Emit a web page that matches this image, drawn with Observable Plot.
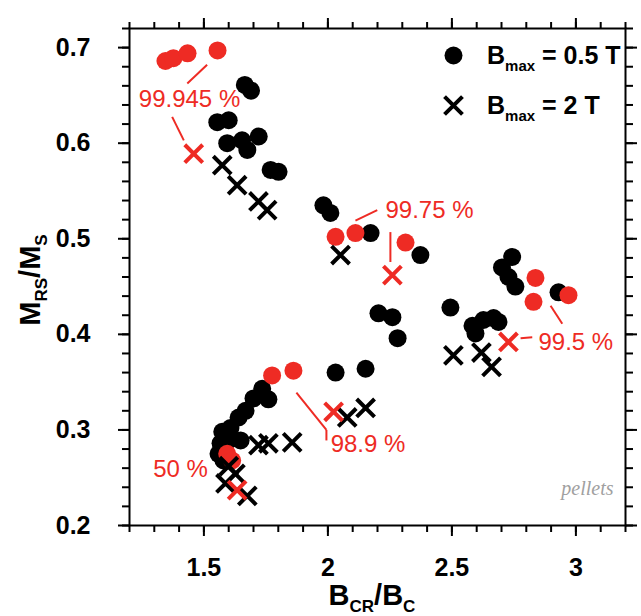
<!DOCTYPE html>
<html><head><meta charset="utf-8">
<script src="https://cdn.jsdelivr.net/npm/d3@7"></script>
<script src="https://cdn.jsdelivr.net/npm/@observablehq/plot@0.6"></script>
<style>body{margin:0;background:#fff}#chart{width:641px;height:616px}</style>
</head><body><div id="chart"></div>
<script>
// ---- data ----
const blackDotX = [1.665,1.69,1.554,1.600,1.594,1.654,1.721,1.675,1.769,1.801,
  1.982,2.010,2.172,2.373,2.204,2.260,2.281,
  2.743,2.702,2.728,2.756,2.930,
  2.494,2.583,2.595,2.627,2.668,2.688,
  2.031,2.152,
  1.735,1.760,1.700,1.668,1.640,1.607,1.574,1.567,1.599,1.648,1.559,1.579];
const blackDotY = [0.661,0.655,0.622,0.624,0.600,0.603,0.607,0.593,0.572,0.570,
  0.535,0.527,0.506,0.483,0.422,0.418,0.396,
  0.481,0.470,0.460,0.450,0.444,
  0.428,0.409,0.401,0.415,0.417,0.413,
  0.360,0.364,
  0.343,0.332,0.333,0.320,0.313,0.302,0.298,0.286,0.289,0.289,0.275,0.268];
const redDotX = [1.345,1.377,1.434,1.555,2.031,2.111,2.313,2.837,2.829,2.970,1.775,1.861,1.594,1.614];
const redDotY = [0.686,0.689,0.694,0.697,0.502,0.506,0.496,0.459,0.434,0.441,0.357,0.362,0.275,0.268];
const blackCrossX = [1.574,1.634,1.720,1.755,2.051,2.506,2.619,2.660,2.078,2.152,1.720,1.760,1.856,1.627,1.600,1.587,1.675];
const blackCrossY = [0.577,0.556,0.539,0.530,0.483,0.378,0.381,0.366,0.313,0.323,0.284,0.286,0.287,0.254,0.262,0.244,0.231];
const redCrossX = [1.459,2.260,2.728,2.023,1.634];
const redCrossY = [0.589,0.462,0.392,0.319,0.237];

const annLabel  = ["99.945 %","50 %","99.75 %","99.5 %","98.9 %"];
const annX      = [1.442,1.406,2.232,2.849,2.011];
const annY      = [0.646,0.259,0.530,0.3916,0.285];
const annAnchor = ["middle","middle","start","start","start"];

const leadX1 = [1.513,1.372,2.111,2.252,2.777,2.898,1.873,1.994];
const leadY1 = [0.682,0.6275,0.519,0.507,0.396,0.430,0.339,0.300];
const leadX2 = [1.433,1.419,2.199,2.252,2.824,2.945,1.994,1.994];
const leadY2 = [0.6625,0.603,0.530,0.4757,0.397,0.411,0.300,0.289];

const xMajorTicks = [1.5,2,2.5,3];
const yMajorTicks = [0.2,0.3,0.4,0.5,0.6,0.7];
const xMinorTicks = d3.range(12,33).map(d => d/10);
const yMinorTicks = d3.range(10,37).map(d => d/50);

const legendLabels = ["0.5 T","2 T"];

// ---- build ----
const red = "#ee2b24";
const pts = (xs, ys) => xs.map((x,i) => ({x, y: ys[i]}));
const ann = annLabel.map((t,i) => ({t, x: annX[i], y: annY[i], a: annAnchor[i]}));
const leads = leadX1.map((x1,i) => ({x1, y1: leadY1[i], x2: leadX2[i], y2: leadY2[i]}));
const F = "Liberation Sans, Arial, Helvetica, sans-serif";
const tickCommon = {stroke: "black", strokeWidth: 2, label: null};

const plot = Plot.plot({
  width: 641, height: 616,
  marginLeft: 129, marginRight: 16, marginTop: 28, marginBottom: 91,
  x: {domain: [1.2, 3.2]},
  y: {domain: [0.2, 0.72]},
  style: {fontFamily: F, background: "white", color: "black"},
  marks: [
    Plot.axisX(xMinorTicks, {...tickCommon, anchor: "bottom", tickSize: 7, tickFormat: () => ""}),
    Plot.axisX(xMinorTicks, {...tickCommon, anchor: "top", tickSize: 7, tickFormat: () => ""}),
    Plot.axisX(xMajorTicks, {...tickCommon, anchor: "bottom", tickSize: 11, tickPadding: 22, fontSize: 25, fontWeight: "bold", tickFormat: d => String(d)}),
    Plot.axisX(xMajorTicks, {...tickCommon, anchor: "top", tickSize: 11, tickFormat: () => ""}),
    Plot.axisY(yMinorTicks, {...tickCommon, anchor: "left", tickSize: 7, tickFormat: () => ""}),
    Plot.axisY(yMinorTicks, {...tickCommon, anchor: "right", tickSize: 7, tickFormat: () => ""}),
    Plot.axisY(yMajorTicks, {...tickCommon, anchor: "left", tickSize: 11, tickPadding: 28, fontSize: 25, fontWeight: "bold", tickFormat: d => d.toFixed(1)}),
    Plot.axisY(yMajorTicks, {...tickCommon, anchor: "right", tickSize: 11, tickFormat: () => ""}),
    Plot.link(leads, {x1: "x1", y1: "y1", x2: "x2", y2: "y2", stroke: red, strokeWidth: 2}),
    Plot.dot(pts(blackDotX, blackDotY), {x: "x", y: "y", r: 9, fill: "black", stroke: "none"}),
    Plot.dot(pts(redDotX, redDotY), {x: "x", y: "y", r: 9, fill: red, stroke: "none"}),
    Plot.dot(pts(blackCrossX, blackCrossY), {x: "x", y: "y", symbol: "times", r: 8.2, stroke: "black", strokeWidth: 4}),
    Plot.dot(pts(redCrossX, redCrossY), {x: "x", y: "y", symbol: "times", r: 8.2, stroke: red, strokeWidth: 4}),
    Plot.text(ann.filter(d => d.a === "middle"), {x: "x", y: "y", text: "t", fill: red, fontSize: 24, textAnchor: "middle"}),
    Plot.text(ann.filter(d => d.a === "start"), {x: "x", y: "y", text: "t", fill: red, fontSize: 24, textAnchor: "start"}),
    Plot.text(["pellets"], {text: d => d, frameAnchor: "bottom-right", dx: -12, dy: -31, fontFamily: "Liberation Serif, Times New Roman, serif", fontStyle: "italic", fontSize: 20, fill: "#a0a0a0", textAnchor: "end"}),
    Plot.dot([0], {frameAnchor: "top-left", dx: 324, dy: 27, r: 9, fill: "black", stroke: "none"}),
    Plot.dot([0], {frameAnchor: "top-left", dx: 324, dy: 77, symbol: "times", r: 8.2, stroke: "black", strokeWidth: 4}),
    Plot.frame({stroke: "black", strokeWidth: 2})
  ]
});
document.getElementById("chart").appendChild(plot);

// ---- texts with subscripts ----
const svg = d3.select(plot);
function sub(g, parts, size, subSize, shift) {
  parts.forEach(([txt, isSub], i) => {
    const prev = i > 0 ? parts[i-1][1] : false;
    let dy = 0;
    if (isSub && !prev) dy = shift;
    if (!isSub && prev) dy = -shift;
    g.append("tspan").attr("font-size", isSub ? subSize : size).attr("dy", dy).text(txt);
  });
}
// x title
const xt = svg.append("text").attr("x", 372).attr("y", 605).attr("text-anchor", "middle")
  .attr("font-family", F).attr("font-weight", "bold").attr("fill", "black");
sub(xt, [["B",false],["CR",true],["/B",false],["C",true]], 29, 17, 7);
// y title
const yt = svg.append("text").attr("transform", "translate(40,280) rotate(-90)").attr("text-anchor", "middle")
  .attr("font-family", F).attr("font-weight", "bold").attr("fill", "black");
sub(yt, [["M",false],["RS",true],["/M",false],["S",true]], 29, 17, 7);
// legend texts
legendLabels.forEach((lab, i) => {
  const t = svg.append("text").attr("x", 487).attr("y", 64 + i*50).attr("text-anchor", "start")
    .attr("font-family", F).attr("font-weight", "bold").attr("fill", "black");
  sub(t, [["B",false],["max",true],[" = " + lab,false]], 25, 15, 7);
});
</script>
</body></html>
